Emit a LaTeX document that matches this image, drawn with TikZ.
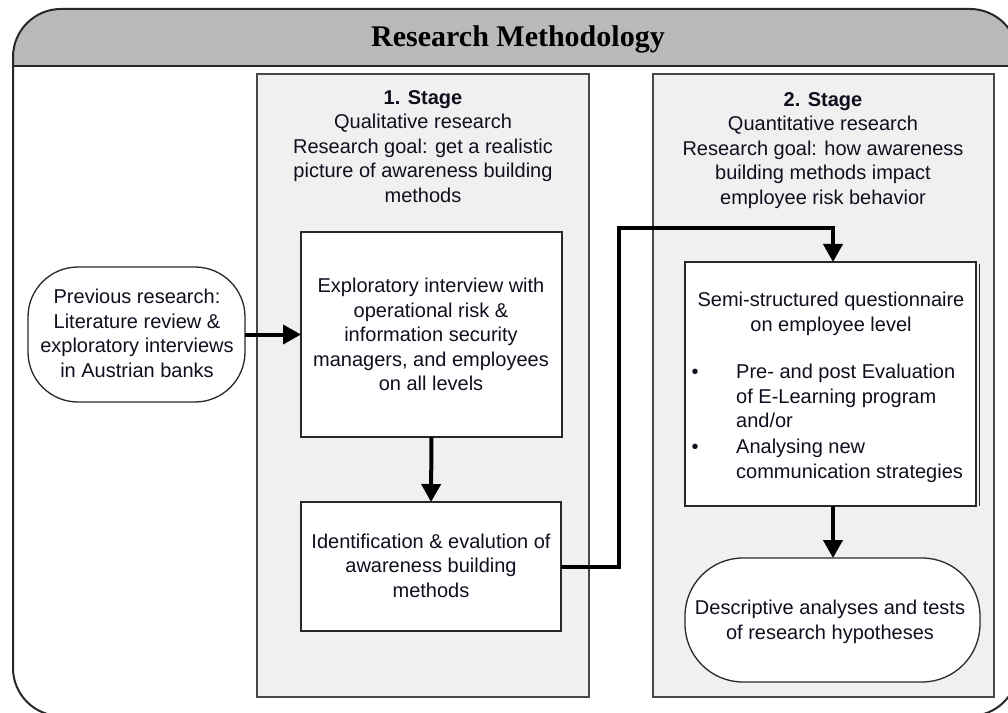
\documentclass[tikz,border=0pt]{standalone}
\usepackage{fontspec}
\setmainfont{Liberation Sans}
\newfontfamily\titlefont{Liberation Serif}
\usetikzlibrary{arrows.meta}
\definecolor{headgray}{RGB}{185,185,185}
\definecolor{stagefill}{RGB}{240,240,240}
\definecolor{framecol}{RGB}{40,40,40}
\definecolor{txtcol}{RGB}{15,15,30}
\begin{document}
\begin{tikzpicture}[x=1bp,y=-1bp,
  txt/.style={inner sep=0pt, align=center, font=\fontsize{20bp}{24.5bp}\selectfont, text=txtcol},
  stagebox/.style={draw=framecol!85, line width=1.5bp, fill=stagefill, inner sep=0pt, outer sep=0pt},
  whitebox/.style={draw=framecol, line width=1.3bp, fill=white, inner sep=0pt, outer sep=0pt},
  conn/.style={line width=4bp, -{Triangle[width=19bp,length=18bp]}},
]
\useasboundingbox (0,0) rectangle (1008,713);
\fill[white] (0,0) rectangle (1008,713);
% header
\begin{scope}
  \clip (0,0) rectangle (1030,66);
  \fill[headgray, rounded corners=48bp] (13,9) rectangle (1018,716);
\end{scope}
\draw[framecol, line width=2bp, rounded corners=48bp] (13,9) rectangle (1018,716);
\draw[framecol, line width=2bp] (13,66) -- (1018,66);
\node[font=\titlefont\bfseries\fontsize{30bp}{36bp}\selectfont, anchor=base, inner sep=0pt, text=black] (title) at (518,47) {Research Methodology};
% stages
\node[stagebox, minimum width=332bp, minimum height=623bp] (s1) at (423,385.5) {};
\node[stagebox, minimum width=341bp, minimum height=623bp] (s2) at (823.5,385.5) {};
\node[txt] (s1t) at (423,146.5) {\textbf{1. Stage}\\Qualitative research\\Research goal: get a realistic\\picture of awareness building\\methods};
\node[txt] (s2t) at (823,150.5) {\textbf{2. Stage}\\Quantitative research\\Research goal: how awareness\\building methods impact\\employee risk behavior};
% boxes
\node[whitebox, rounded corners=50bp, minimum width=217bp, minimum height=135bp] (prev) at (136.5,334.5) {};
\node[txt] (prevt) at (137,333.5) {Previous research:\\Literature review \&\\exploratory interviews\\in Austrian banks};
\node[whitebox, minimum width=261bp, minimum height=205bp] (A) at (431.5,334.5) {};
\node[txt] (At) at (431,334.5) {Exploratory interview with\\operational risk \&\\information security\\managers, and employees\\on all levels};
\node[whitebox, minimum width=260bp, minimum height=129bp] (B) at (431,566.5) {};
\node[txt] (Bt) at (431,565.5) {Identification \& evalution of\\awareness building\\methods};
\node[whitebox, minimum width=291bp, minimum height=244bp] (C) at (830.5,384) {};
\draw[framecol, line width=1bp] ([shift={(3.5,2)}]C.north east) -- ([shift={(3.5,0)}]C.south east);
\node[txt] (Ct) at (831,314) {Semi-structured questionnaire\\on employee level};
\node[txt, align=left, anchor=north west] (b1) at (736,364) {Pre- and post Evaluation\\of E-Learning program\\and/or};
\node[txt, align=left, anchor=north west] (b2) at (736,439) {Analysing new\\communication strategies};
\node[txt, anchor=base] (dot1) at (695,378) {•};
\node[txt, anchor=base] (dot2) at (695,453) {•};
\node[whitebox, rounded corners=58bp, minimum width=295bp, minimum height=124bp] (D) at (832.5,620) {};
\node[txt] (Dt) at (830,622) {Descriptive analyses and tests\\of research hypotheses};
% connectors
\coordinate (k1) at (619,228);
\coordinate (cx) at (833,0);
\draw[conn] (prev.east) -- (A.west);
\draw[conn] (A.south) -- (B.north);
\draw[conn] (B.east) -| (k1) -| (C.north -| cx);
\draw[conn] (C.south -| cx) -- (D.north -| cx);
\end{tikzpicture}
\end{document}
